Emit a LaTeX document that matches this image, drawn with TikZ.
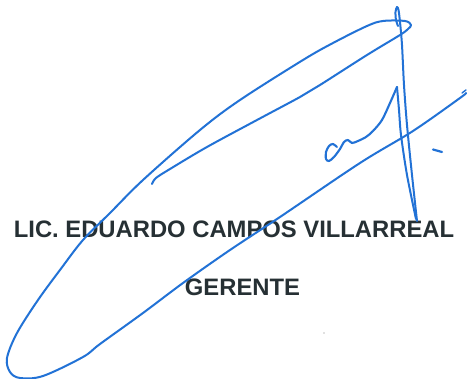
\documentclass[tikz,border=0pt]{standalone}
\usepackage{fontspec}
\setmainfont{Liberation Sans}
\definecolor{ink}{RGB}{34,114,214}
\definecolor{txt}{RGB}{38,48,52}
\begin{document}
\begin{tikzpicture}[x=1pt,y=-1pt,
  pen/.style={draw=ink,line width=2pt,line cap=round,line join=round},
  caption/.style={font=\bfseries\fontsize{23.8}{28}\selectfont,text=txt,anchor=base,inner sep=0pt}]
\useasboundingbox (0,0) rectangle (467,379);
\fill[white] (0,0) rectangle (467,379);
% texts
\node[caption] (name) at (234,237.5) {LIC. EDUARDO CAMPOS VILLARREAL};
\node[caption] (role) at (242.5,296) {GERENTE};
% main loop stroke
\draw[pen] plot[smooth,tension=0.55] coordinates {
 (152,184) (156,178) (170,169) (207,147) (257,120) (300,97) (320,85) (367,55)
 (400,35) (408,29) (411,25) (405,21) (383,21) (367,26) (333,43) (303,60)
 (240,100) (200,130) (143,180) (110,213) (83,240) (60,270) (38,300) (17,333)
 (7,358) (10,372) (20,378) (43,376) (83,357) (100,344) (143,313) (183,283)
 (230,250) (280,217) (360,163) (413,131) (460,98) (466,93)};
\draw[pen,line width=1.4pt] (462,93) -- (466,90);
% vertical stroke with narrow top loop
\draw[pen] plot[smooth,tension=0.5] coordinates {
 (417,221) (412,175) (407,125) (404,85) (402,45) (400,22) (398.5,10) (397,7)
 (395.5,12) (396,20) (398,26)};
% the a and flourish
\draw[pen,line width=2.1pt] plot[smooth,tension=0.5] coordinates {
 (337,147) (333,144) (329,146) (326,152) (326,159) (329,161) (334,157) (340,149)
 (344,142) (348,140) (352,143) (358,141) (366,137) (373,131) (382,120) (390,103) (397,87)};
\draw[pen] plot[smooth,tension=0.5] coordinates {
 (397,87) (399,110) (401,135) (407,175) (416,219)};
% small dash and dot
\draw[pen,line width=2.2pt] (433,149.5) -- (442,152);
\fill[gray] (324,333) circle (0.7);
\end{tikzpicture}
\end{document}
